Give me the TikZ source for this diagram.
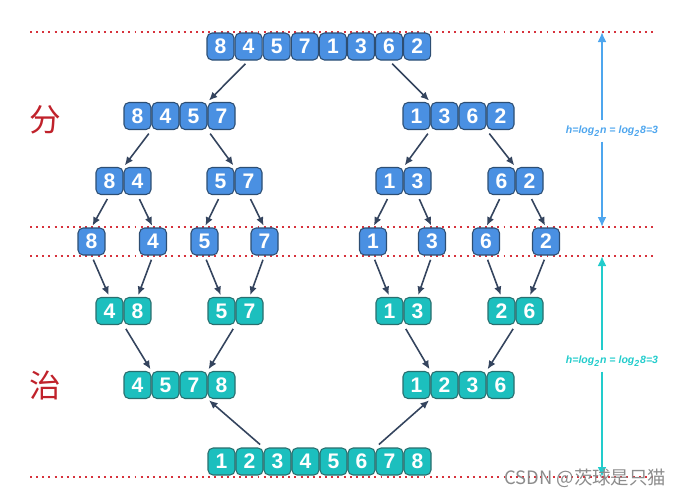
\documentclass[tikz,border=0pt]{standalone}
\usepackage{fontspec}
\setmainfont{Liberation Sans}
\newfontfamily\cjk{Noto Sans CJK SC}
\usepackage{tikz}
\usetikzlibrary{arrows.meta, positioning}

\definecolor{cellblue}{HTML}{4A90E2}
\definecolor{cellteal}{HTML}{1CBFBE}
\definecolor{edgeblue}{HTML}{2D4E73}
\definecolor{edgeteal}{HTML}{2A6E6E}
\definecolor{arrnavy}{HTML}{34445E}
\definecolor{sepred}{HTML}{D7323C}
\definecolor{hblue}{HTML}{4EA6EE}
\definecolor{hteal}{HTML}{22CCCC}
\definecolor{zired}{HTML}{C0222B}

\tikzset{
  cell/.style={draw, rounded corners=1mm, line width=0.6pt, minimum width=0.54cm,
    minimum height=0.54cm, inner sep=0pt, text=white,
    font=\fontsize{12}{14}\selectfont\bfseries},
  bcell/.style={cell, fill=cellblue, draw=edgeblue},
  tcell/.style={cell, fill=cellteal, draw=edgeteal},
  arr/.style={-{Latex[length=1.7mm,width=1.5mm]}, draw=arrnavy, line width=0.9pt,
    shorten <=0.09cm, shorten >=0.04cm},
  sepline/.style={sepred, line width=1.1pt, dash pattern=on 1.1pt off 2.4pt},
  harr/.style={line width=1.2pt, -{Latex[length=2mm,width=1.8mm]}},
  hlabel/.style={inner sep=3pt, font=\fontsize{6}{7}\selectfont\bfseries\itshape},
}

\begin{document}
\begin{tikzpicture}[x=0.02cm, y=-0.02cm]
    \useasboundingbox (0,0) rectangle (686,498);

    % separators
    \draw[sepline] (30,32) -- (655,32);
    \draw[sepline] (30,227) -- (655,227);
    \draw[sepline] (30,256) -- (655,256);
    \draw[sepline] (30,477) -- (655,477);

    % split
    \foreach \v [count=\i] in {8,4,5,7,1,3,6,2}
        \node[bcell] (t\i) at ({220.5+28.1*(\i-1)},46.5) {\v};
    \foreach \v [count=\i] in {8,4,5,7}
        \node[bcell] (a\i) at ({137.5+28*(\i-1)},116) {\v};
    \foreach \v [count=\i] in {1,3,6,2}
        \node[bcell] (b\i) at ({416.5+28*(\i-1)},116) {\v};
    \foreach \v [count=\i] in {8,4}
        \node[bcell] (c\i) at ({109.5+28*(\i-1)},181) {\v};
    \foreach \v [count=\i] in {5,7}
        \node[bcell] (d\i) at ({220.5+28*(\i-1)},181) {\v};
    \foreach \v [count=\i] in {1,3}
        \node[bcell] (e\i) at ({389.5+28*(\i-1)},181) {\v};
    \foreach \v [count=\i] in {6,2}
        \node[bcell] (f\i) at ({501.5+28*(\i-1)},181) {\v};
    \foreach \v/\x [count=\i] in {8/91.5,4/153,5/204.5,7/264.5,1/373,3/432,6/486,2/546}
        \node[bcell] (s\i) at (\x,241.5) {\v};

    % merge
    \foreach \v [count=\i] in {4,8}
        \node[tcell] (ma\i) at ({109.5+28*(\i-1)},311) {\v};
    \foreach \v [count=\i] in {5,7}
        \node[tcell] (mb\i) at ({221.5+28*(\i-1)},311) {\v};
    \foreach \v [count=\i] in {1,3}
        \node[tcell] (mc\i) at ({389.5+28*(\i-1)},311) {\v};
    \foreach \v [count=\i] in {2,6}
        \node[tcell] (md\i) at ({501.5+28*(\i-1)},311) {\v};
    \foreach \v [count=\i] in {4,5,7,8}
        \node[tcell] (na\i) at ({137.5+28*(\i-1)},385) {\v};
    \foreach \v [count=\i] in {1,2,3,6}
        \node[tcell] (nb\i) at ({416.5+28*(\i-1)},385) {\v};
    \foreach \v [count=\i] in {1,2,3,4,5,6,7,8}
        \node[tcell] (z\i) at ({221.5+28*(\i-1)},461.5) {\v};

    \node[text=zired, font=\cjk\fontsize{18}{20}\selectfont] (fen) at (45,120) {分};
    \node[text=zired, font=\cjk\fontsize{18}{20}\selectfont] (zhi) at (45,385) {治};

    \draw[arr] (t2.south) -- (a3.north east);
    \draw[arr] (t7.south) -- (b1.north east);
    \draw[arr] (a1.south east) -- (c1.north east);
    \draw[arr] (a3.south east) -- (d1.north east);
    \draw[arr] (b1.south east) -- (e1.north east);
    \draw[arr] (b3.south east) -- (f1.north east);
    \draw[arr] (c1.south) -- (s1.north);
    \draw[arr] (c2.south) -- (s2.north);
    \draw[arr] (d1.south) -- (s3.north);
    \draw[arr] (d2.south) -- (s4.north);
    \draw[arr] (e1.south) -- (s5.north);
    \draw[arr] (e2.south) -- (s6.north);
    \draw[arr] (f1.south) -- (s7.north);
    \draw[arr] (f2.south) -- (s8.north);
    \draw[arr] (s1.south) -- (ma1.north);
    \draw[arr] (s2.south) -- (ma2.north);
    \draw[arr] (s3.south) -- (mb1.north);
    \draw[arr] (s4.south) -- (mb2.north);
    \draw[arr] (s5.south) -- (mc1.north);
    \draw[arr] (s6.south) -- (mc2.north);
    \draw[arr] (s7.south) -- (md1.north);
    \draw[arr] (s8.south) -- (md2.north);
    \draw[arr] (ma1.south east) -- (na1.north east);
    \draw[arr] (mb1.south east) -- (na3.north east);
    \draw[arr] (mc1.south east) -- (nb1.north east);
    \draw[arr] (md1.south east) -- (nb3.north east);
    \draw[arr] (z2.north east) -- (na3.south east);
    \draw[arr] (z6.north east) -- (nb1.south east);

    % height
    \coordinate (h1) at (602,32);
    \coordinate (h2) at (602,227);
    \coordinate (h3) at (602,256);
    \coordinate (h4) at (602,477);
    \node[hlabel, text=hblue] (hl1) at (612,131) {h=log\textsubscript{2}n = log\textsubscript{2}8=3};
    \node[hlabel, text=hteal] (hl2) at (612,361) {h=log\textsubscript{2}n = log\textsubscript{2}8=3};
    \draw[harr, hblue] (hl1.north -| h1) -- (h1);
    \draw[harr, hblue] (hl1.south -| h1) -- (h2);
    \draw[harr, hteal] (hl2.north -| h3) -- (h3);
    \draw[harr, hteal] (hl2.south -| h3) -- (h4);

    \node[text=black!45, font=\cjk\fontsize{10.5}{12}\selectfont, anchor=west] (mark) at (498,478) {CSDN @茨球是只猫};
\end{tikzpicture}
\end{document}
